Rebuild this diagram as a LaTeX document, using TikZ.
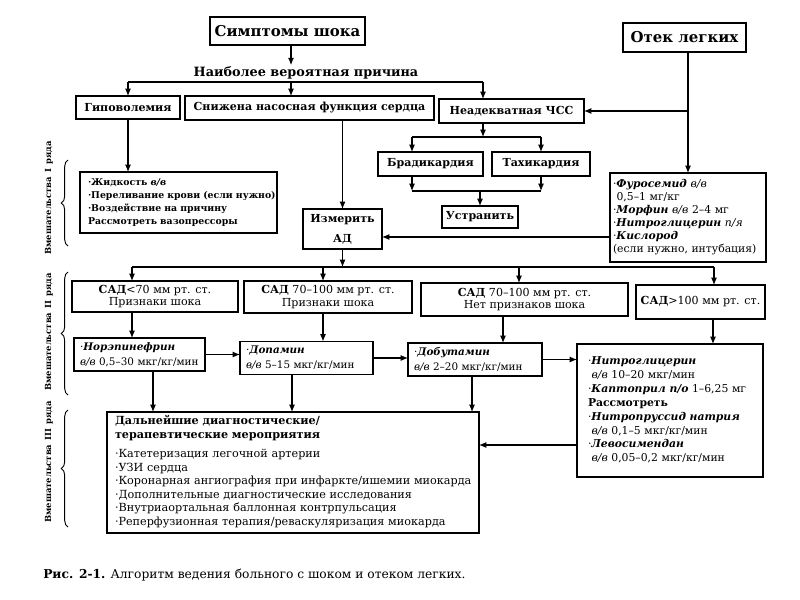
\documentclass[tikz,border=0pt]{standalone}
\usepackage{fontspec}
\setmainfont{DejaVu Serif}
\usetikzlibrary{arrows.meta,calc,decorations.pathreplacing}
\newcommand\fntTitle{\fontsize{11.2}{13}\selectfont\bfseries}
\newcommand\fntCause{\fontsize{9.6}{11}\selectfont\bfseries}
\newcommand\fntBox{\fontsize{8.3}{10}\selectfont\bfseries}
\newcommand\fntMed{\fontsize{8.1}{9.75}\selectfont}
\newcommand\fntSmall{\fontsize{7.0}{9.9}\selectfont\bfseries}
\newcommand\fntSide{\fontsize{6.3}{7}\selectfont\bfseries}
\newcommand\fntCap{\fontsize{9.2}{11}\selectfont}
\newcommand\bi[1]{\textbf{\textit{#1}}}
\newcommand\linesblock[1]{\begin{tabular}{@{}l@{}}#1\end{tabular}}
\begin{document}
\begin{tikzpicture}[x=0.75pt,y=-0.75pt,
  bx/.style 2 args={draw,line width=0.8pt,minimum width=#1*0.75pt,minimum height=#2*0.75pt,inner sep=0pt,outer sep=0pt},
  tl/.style={text width=#1*0.75pt,align=left},
  arr/.style={-{Latex[length=5.5pt,width=4.5pt]},line width=0.8pt},
  ln/.style={line width=0.8pt},
  brc/.style={decorate,decoration={brace,amplitude=5pt},line width=0.7pt}]
\useasboundingbox (0,0) rectangle (800,600);

% top
\node[bx={155}{28},font=\fntTitle] (simpt) at (287.5,31) {Симптомы шока};
\node[font=\fntCause,inner sep=1pt] (prich) at (306,73) {Наиболее вероятная причина};
\node[bx={123}{29},font=\fntTitle] (otek) at (684.5,37.5) {Отек легких};

\node[bx={104}{23},font=\fntBox] (hyp) at (128,107.5) {Гиповолемия};
\node[bx={249}{24},font=\fntBox] (snij) at (309.5,108) {Снижена насосная функция сердца};
\node[bx={145}{24},font=\fntBox] (nead) at (511.5,111) {Неадекватная ЧСС};

\node[bx={105}{24},font=\fntBox] (brad) at (430.5,164) {Брадикардия};
\node[bx={98}{24},font=\fntBox] (tach) at (541,164) {Тахикардия};
\node[bx={76}{22},font=\fntBox] (ustr) at (480,217) {Устранить};

\node[bx={197}{61},tl={181},font=\fntSmall] (fluid) at (178.5,202.5)
  {\linesblock{·Жидкость \textit{в/в}\\·Переливание крови (если нужно)\\·Воздействие на причину\\Рассмотреть вазопрессоры}};
\node[bx={79}{40},align=center,font={\fontsize{8.3}{15}\selectfont\bfseries}] (izm) at (342.5,229) {Измерить\\АД};
\node[bx={156}{89},tl={150},font=\fntMed] (furo) at (688,217.5)
  {\linesblock{·\bi{Фуросемид} \textit{в/в}\\\ 0,5–1 мг/кг\\·\bi{Морфин} \textit{в/в} 2–4 мг\\·\bi{Нитроглицерин} \textit{п/я}\\·\bi{Кислород}\\(если нужно, интубация)}};

% SAD row
\node[bx={166}{31},align=center,font={\fontsize{8.3}{9.5}\selectfont}] (sad1) at (155,296.5) {\textbf{САД}<70 мм рт. ст.\\Признаки шока};
\node[bx={168}{32},align=center,font={\fontsize{8.3}{9.5}\selectfont}] (sad2) at (328,297) {\textbf{САД} 70–100 мм рт. ст.\\Признаки шока};
\node[bx={207}{33},align=center,font={\fontsize{8.3}{9.5}\selectfont}] (sad3) at (524.5,299.5) {\textbf{САД} 70–100 мм рт. ст.\\Нет признаков шока};
\node[bx={129}{34},align=center,font={\fontsize{8.3}{9.5}\selectfont}] (sad4) at (700.5,302) {\textbf{САД}>100 мм рт. ст.};

% drugs
\node[bx={131}{33},tl={119},font={\fontsize{7.8}{11.25}\selectfont}] (nor) at (139.5,354.5) {\linesblock{·\bi{Норэпинефрин}\\\textit{в/в} 0,5–30 мкг/кг/мин}};
\node[bx={133}{33},tl={121},font={\fontsize{7.8}{11.25}\selectfont}] (dop) at (306.5,358) {\linesblock{·\bi{Допамин}\\\textit{в/в} 5–15 мкг/кг/мин}};
\node[bx={134}{33},tl={122},font={\fontsize{7.8}{11.25}\selectfont}] (dob) at (475,359.5) {\linesblock{·\bi{Добутамин}\\\textit{в/в} 2–20 мкг/кг/мин}};
\node[bx={186}{133},tl={164},font={\fontsize{8.1}{10.4}\selectfont}] (nitro) at (670,410.5)
  {\linesblock{·\bi{Нитроглицерин}\\\ \textit{в/в} 10–20 мкг/мин\\·\bi{Каптоприл п/о} 1–6,25 мг\\\textbf{Рассмотреть}\\·\bi{Нитропруссид натрия}\\\ \textit{в/в} 0,1–5 мкг/кг/мин\\·\bi{Левосимендан}\\\ \textit{в/в} 0,05–0,2 мкг/кг/мин}};

\node[bx={372}{121},tl={356},font={\fontsize{8.4}{10.2}\selectfont}] (dal) at (293,472.5)
  {\linesblock{\textbf{Дальнейшие диагностические/}\\\textbf{терапевтические мероприятия}\\[4pt]·Катетеризация легочной артерии\\·УЗИ сердца\\·Коронарная ангиография при инфаркте/ишемии миокарда\\·Дополнительные диагностические исследования\\·Внутриаортальная баллонная контрпульсация\\·Реперфузионная терапия/реваскуляризация миокарда}};

% side labels and braces
\node[rotate=90,font=\fntSide] (l1) at (49,198) {Вмешательства\enspace I\enspace ряда};
\node[rotate=90,font=\fntSide] (l2) at (49,332) {Вмешательства\enspace II\enspace ряда};
\node[rotate=90,font=\fntSide] (l3) at (49,462) {Вмешательства\enspace III\enspace ряда};
\draw[brc] (68,246) -- (68,160);
\draw[brc] (68,395) -- (68,272);
\draw[brc] (68,527) -- (68,410);

\node[anchor=west,inner sep=0pt,font=\fntCap] (cap) at (43,575) {\textbf{Рис. 2-1.} Алгоритм ведения больного с шоком и отеком легких.};

% connectors
\coordinate (a1) at ($(simpt.south)+(3.5,0)$);
\draw[arr] (a1) -- (a1 |- prich.north);
\coordinate (br) at (0,82);
\coordinate (snA) at ($(snij.north west)+(106,0)$);
\coordinate (ndA) at ($(nead.north west)+(44,0)$);
\draw[ln] (hyp.north |- br) -- (ndA |- br);
\draw[arr] (hyp.north |- br) -- (hyp.north);
\draw[arr] (snA |- br) -- (snA);
\draw[arr] (ndA |- br) -- (ndA);

\coordinate (otA) at (furo.north |- otek.south);
\draw[arr] (otA) -- (furo.north);
\draw[arr] (furo.north |- nead.east) -- (nead.east);

\draw[arr] (hyp.south) -- (hyp.south |- fluid.north);
\draw[arr] (izm.north |- snij.south) -- (izm.north);

\coordinate (ndB) at ($(nead.south west)+(44,0)$);
\coordinate (br2) at (0,137);
\coordinate (bdA) at ($(brad.north west)+(34,0)$);
\draw[arr] (ndB) -- (ndB |- br2);
\draw[ln] (bdA |- br2) -- (tach.north |- br2);
\draw[arr] (bdA |- br2) -- (bdA);
\draw[arr] (tach.north |- br2) -- (tach.north);

\coordinate (bdB) at ($(brad.south west)+(34,0)$);
\coordinate (br3) at (0,191);
\draw[arr] (bdB) -- (bdB |- br3);
\draw[arr] (tach.south) -- (tach.south |- br3);
\draw[ln] (bdB |- br3) -- (tach.south |- br3);
\draw[arr] (ustr.north |- br3) -- (ustr.north);

\coordinate (fzA) at ($(izm.south east)+(0,-12)$);
\draw[arr] (furo.west |- fzA) -- (fzA);

\coordinate (br4) at (0,267);
\coordinate (s1A) at ($(sad1.north west)+(60,0)$);
\coordinate (s2A) at ($(sad2.north west)+(79,0)$);
\coordinate (s3A) at ($(sad3.north west)+(98,0)$);
\coordinate (s4A) at ($(sad4.north west)+(78,0)$);
\draw[arr] (izm.south) -- (izm.south |- br4);
\draw[ln] (s1A |- br4) -- (s4A |- br4);
\draw[arr] (s1A |- br4) -- (s1A);
\draw[arr] (s2A |- br4) -- (s2A);
\draw[arr] (s3A |- br4) -- (s3A);
\draw[arr] (s4A |- br4) -- (s4A);

\draw[arr] (s1A |- sad1.south) -- (s1A |- nor.north);
\draw[arr] (s2A |- sad2.south) -- (s2A |- dop.north);
\coordinate (s3B) at ($(sad3.south west)+(82,0)$);
\draw[arr] (s3B) -- (s3B |- dob.north);
\coordinate (s4B) at ($(sad4.south west)+(77,0)$);
\draw[arr] (s4B) -- (s4B |- nitro.north);

\draw[arr] (nor.east) -- (nor.east -| dop.west);
\draw[arr] (dop.east) -- (dop.east -| dob.west);
\draw[arr] (dob.east) -- (dob.east -| nitro.west);

\coordinate (ntA) at ($(nitro.south west)+(0,-32)$);
\draw[arr] (ntA) -- (ntA -| dal.east);

\coordinate (nrB) at ($(nor.south west)+(79,0)$);
\draw[arr] (nrB) -- (nrB |- dal.north);
\coordinate (dpB) at ($(dop.south west)+(52,0)$);
\draw[arr] (dpB) -- (dpB |- dal.north);
\coordinate (dbB) at ($(dob.south west)+(64,0)$);
\draw[arr] (dbB) -- (dbB |- dal.north);
\end{tikzpicture}
\end{document}
